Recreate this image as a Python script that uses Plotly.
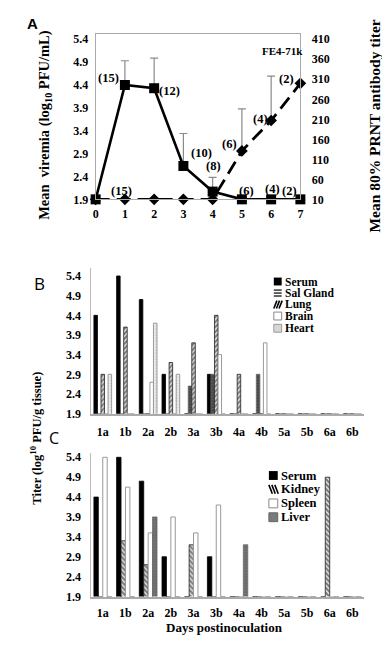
import plotly.graph_objects as go

# ---------------- Panel A data ----------------
days = [0, 1, 2, 3, 4, 5, 6, 7]
viremia = [1.9, 4.4, 4.33, 2.63, 2.07, 1.9, 1.9, 1.9]
viremia_err = [0, 0.53, 0.66, 0.71, 0.31, 0, 0, 0]
titer = [10, 10, 10, 10, 10, 131, 207, 300]
titer_err = [0, 0, 0, 0, 0, 105, 111, 0]
left_ticks = [1.9, 2.4, 2.9, 3.4, 3.9, 4.4, 4.9, 5.4]
right_ticks = [10, 60, 110, 160, 210, 260, 310, 360, 410]
# group-size labels (text, day position, viremia-scale height)
n_labels = ["(15)", "(12)", "(10)", "(8)", "(6)", "(4)", "(2)", "(15)", "(6)", "(4)", "(2)"]
n_label_x = [0.44, 2.53, 3.62, 4.02, 4.58, 5.64, 6.51, 0.90, 5.16, 6.04, 6.62]
n_label_y = [4.55, 4.26, 2.92, 2.64, 3.11, 3.66, 4.54, 2.08, 2.08, 2.12, 2.08]

# ---------------- Panels B / C data ----------------
groups = ["1a", "1b", "2a", "2b", "3a", "3b", "4a", "4b", "5a", "5b", "6a", "6b"]
tissue_ticks = [1.9, 2.4, 2.9, 3.4, 3.9, 4.4, 4.9, 5.4]

serum_b = [4.4, 5.4, 4.8, 2.9, 1.9, 2.9, 1.9, 1.9, 1.9, 1.9, 1.9, 1.9]
salgland_b = [1.9, 1.9, 1.9, 1.9, 2.6, 2.9, 1.9, 2.9, 1.9, 1.9, 1.9, 1.9]
lung_b = [2.9, 4.1, 1.9, 3.2, 3.7, 4.4, 2.9, 1.9, 1.9, 1.9, 1.9, 1.9]
brain_b = [1.9, 1.9, 2.7, 1.9, 1.9, 3.4, 1.9, 3.7, 1.9, 1.9, 1.9, 1.9]
heart_b = [2.9, 1.9, 4.2, 2.9, 1.9, 1.9, 1.9, 1.9, 1.9, 1.9, 1.9, 1.9]

serum_c = [4.4, 5.4, 4.8, 2.9, 1.9, 2.9, 1.9, 1.9, 1.9, 1.9, 1.9, 1.9]
kidney_c = [1.9, 3.3, 2.7, 1.9, 3.2, 1.9, 1.9, 1.9, 1.9, 1.9, 4.9, 1.9]
spleen_c = [5.4, 4.65, 3.5, 3.9, 3.5, 4.2, 1.9, 1.9, 1.9, 1.9, 1.9, 1.9]
liver_c = [1.9, 1.9, 3.9, 1.9, 1.9, 1.9, 3.2, 1.9, 1.9, 1.9, 1.9, 1.9]

legend_b = ["Serum", "Sal Gland", "Lung", "Brain", "Heart"]
legend_c = ["Serum", "Kidney", "Spleen", "Liver"]

SERIF = "Liberation Serif"
# The page body has an 8px default margin: the figure is drawn at (8, 8),
# so it is sized to fit inside the 390x670 window.
OFF = 8
W, H = 382, 654


def px(x):
    return (x - OFF) / W


def py(y):
    return 1 - (y - OFF) / H


fig = go.Figure()

# ---------------- Panel A traces ----------------
fig.add_trace(go.Scatter(
    x=days, y=viremia, mode="lines+markers", xaxis="x", yaxis="y",
    line=dict(color="black", width=2.6),
    marker=dict(symbol="square", size=10, color="black"),
    error_y=dict(type="data", array=viremia_err, arrayminus=[0] * len(days),
                 symmetric=False, color="#8a8a8a", thickness=1.2, width=4),
    cliponaxis=False, showlegend=False))
fig.add_trace(go.Scatter(
    x=days, y=titer, mode="lines+markers", xaxis="x", yaxis="y2",
    line=dict(color="black", width=2.8, dash="14px,7px"),
    marker=dict(symbol="diamond", size=9, color="black"),
    error_y=dict(type="data", array=titer_err, arrayminus=[0] * len(days),
                 symmetric=False, color="#8a8a8a", thickness=1.2, width=4),
    cliponaxis=False, showlegend=False))

# ---------------- Panel B traces ----------------
b_styles = [
    (serum_b, dict(color="black", line=dict(color="black", width=0.8))),
    (salgland_b, dict(color="#555555", line=dict(color="#666666", width=0.8),
                      pattern=dict(shape="-", fgcolor="#2a2a2a", size=3, solidity=0.4))),
    (lung_b, dict(color="white", line=dict(color="#222222", width=0.8),
                  pattern=dict(shape="/", fgcolor="black", bgcolor="white", size=3.5, solidity=0.7))),
    (brain_b, dict(color="white", line=dict(color="#999999", width=1))),
    (heart_b, dict(color="white", line=dict(color="#999999", width=1),
                   pattern=dict(shape=".", fgcolor="#9a9a9a", bgcolor="white", size=3, solidity=0.5))),
]
for name, (vals, mk) in zip(legend_b, b_styles):
    fig.add_trace(go.Bar(x=groups, y=vals, name=name, xaxis="x2", yaxis="y3",
                         marker=mk, showlegend=False))

# ---------------- Panel C traces ----------------
c_styles = [
    (serum_c, dict(color="black", line=dict(color="black", width=0.8))),
    (kidney_c, dict(color="white", line=dict(color="#222222", width=0.8),
                    pattern=dict(shape="\\", fgcolor="black", bgcolor="white", size=3.5, solidity=0.7))),
    (spleen_c, dict(color="white", line=dict(color="#999999", width=1))),
    (liver_c, dict(color="#7a7a7a", line=dict(color="#666666", width=0.8),
                   pattern=dict(shape=".", fgcolor="#3a3a3a", size=3, solidity=0.4))),
]
for name, (vals, mk) in zip(legend_c, c_styles):
    fig.add_trace(go.Bar(x=groups, y=vals, name=name, xaxis="x3", yaxis="y4",
                         marker=mk, showlegend=False))

tickfont = dict(family=SERIF, size=12, color="black", weight="bold")
transparent = "rgba(0,0,0,0)"
fmt = lambda v: f"{v:.1f}"

fig.update_layout(
    width=W, height=H, margin=dict(l=0, r=0, t=0, b=0),
    paper_bgcolor="white", plot_bgcolor="white",
    barmode="group", bargap=0.22, bargroupgap=0,
    font=dict(family=SERIF, color="black"),
    # Panel A
    xaxis=dict(domain=[px(94), px(302)], anchor="y", range=[0, 7],
               tickvals=days, ticktext=[str(d) for d in days],
               showline=True, mirror=True, linecolor="#aaaaaa", linewidth=1,
               showgrid=False, zeroline=False, ticks="outside", ticklen=3,
               tickcolor=transparent, tickfont=tickfont),
    yaxis=dict(domain=[py(200), py(32.3)], anchor="x", range=[1.9, 5.516],
               tickvals=left_ticks, ticktext=[fmt(v) for v in left_ticks],
               showline=True, linecolor="#aaaaaa", linewidth=1,
               showgrid=False, zeroline=False, ticks="outside", ticklen=4,
               tickcolor=transparent, tickfont=tickfont),
    yaxis2=dict(overlaying="y", side="right", anchor="x",
                range=[10, 10 + (5.516 - 1.9) / 3.5 * 400],
                tickvals=right_ticks, ticktext=[str(v) for v in right_ticks],
                showline=True, linecolor="#aaaaaa", linewidth=1,
                showgrid=False, zeroline=False, ticks="outside", ticklen=8,
                tickcolor=transparent, tickfont=tickfont),
    # Panel B
    xaxis2=dict(domain=[px(89.7), px(366.4)], anchor="y3", type="category",
                showline=True, linecolor="#aaaaaa", linewidth=1.5,
                showgrid=False, zeroline=False, ticks="outside", ticklen=6,
                tickcolor=transparent, tickfont=tickfont),
    yaxis3=dict(domain=[py(417.3), py(269.3)], anchor="x2", range=[1.9, 5.61],
                tickvals=tissue_ticks, ticktext=[fmt(v) for v in tissue_ticks],
                showline=True, linecolor="#bbbbbb", linewidth=1,
                showgrid=False, zeroline=False, ticks="outside", ticklen=7,
                tickcolor=transparent, tickfont=tickfont),
    # Panel C
    xaxis3=dict(domain=[px(89.7), px(366.4)], anchor="y4", type="category",
                showline=True, linecolor="#aaaaaa", linewidth=1.5,
                showgrid=False, zeroline=False, ticks="outside", ticklen=4,
                tickcolor=transparent, tickfont=tickfont),
    yaxis4=dict(domain=[py(602.7), py(456.7)], anchor="x3", range=[1.9, 5.52],
                tickvals=tissue_ticks, ticktext=[fmt(v) for v in tissue_ticks],
                showline=True, linecolor="#bbbbbb", linewidth=1,
                showgrid=False, zeroline=False, ticks="outside", ticklen=7,
                tickcolor=transparent, tickfont=tickfont),
)

ann = []
bold = lambda s: dict(family=SERIF, size=s, color="black", weight="bold")


def note(text, x, y, font, xanchor="center", textangle=0, xref="paper", yref="paper"):
    ann.append(dict(text=text, x=x, y=y, xref=xref, yref=yref, showarrow=False,
                    xanchor=xanchor, yanchor="middle", textangle=textangle, font=font))


# Panel A sample-size labels
for t, xv, yv in zip(n_labels, n_label_x, n_label_y):
    note(t, xv, yv, bold(12.5), xref="x", yref="y")

# Panel labels
note("A", px(30), py(21.7), dict(family="Liberation Sans", size=15, color="black", weight="bold"))
note("B", px(37), py(285), dict(family="Open Sans", size=17, color="black"))
note("C", px(52), py(442), dict(family="Open Sans", size=16, color="black"))
note("FE4-71k", px(284), py(49.3), bold(11))

# Axis titles
note("Mean  viremia (log<sub>10</sub> PFU/mL)", px(43), py(124), bold(14.5), textangle=-90)
note("Mean 80% PRNT antibody titer", px(377), py(126), bold(15.5), textangle=-90)
note("Titer (log<sup>10</sup> PFU/g tissue)", px(33), py(442), bold(12.5), textangle=-90)
note("Days postinoculation", px(225), py(634.5), bold(13))

shapes = []


def rect(x0, y0, x1, y1, fill, line_color=None, lw=0):
    shapes.append(dict(type="rect", xref="paper", yref="paper",
                       x0=px(x0), x1=px(x1), y0=py(y1), y1=py(y0),
                       fillcolor=fill,
                       line=dict(color=line_color or fill, width=lw)))


def seg(x0, y0, x1, y1, color, lw):
    shapes.append(dict(type="line", xref="paper", yref="paper",
                       x0=px(x0), x1=px(x1), y0=py(y0), y1=py(y1),
                       line=dict(color=color, width=lw)))


def swatch(kind, x0, yc, s):
    y0, y1 = yc - s / 2, yc + s / 2
    x1 = x0 + s
    if kind == "Serum":
        rect(x0, y0, x1, y1, "black")
    elif kind == "Sal Gland":
        for k in range(3):
            yy = y0 + 1 + k * (s - 2) / 2
            seg(x0, yy, x1, yy, "#333333", 1.5)
    elif kind in ("Lung", "Kidney"):
        n = 3
        for k in range(n):
            a = x0 + k * s / n
            if kind == "Lung":
                seg(a, y1, a + s / n + 0.5, y0, "black", 1.6)
            else:
                seg(a, y0, a + s / n + 0.5, y1, "black", 1.6)
    elif kind in ("Brain", "Spleen"):
        rect(x0, y0, x1, y1, "white", "#888888", 1)
    elif kind == "Heart":
        rect(x0, y0, x1, y1, "#d6d6d6", "#999999", 1)
    elif kind == "Liver":
        rect(x0, y0, x1, y1, "#7a7a7a", "#666666", 1)


# Legend B
rows_b = [283.3, 295.0, 306.7, 318.3, 330.7]
for name, yc in zip(legend_b, rows_b):
    swatch(name, 275, yc, 8)
    note(name, px(284.5), py(yc), bold(11.5), xanchor="left")
# Legend C
rows_c = [480.0, 494.0, 508.3, 522.3]
for name, yc in zip(legend_c, rows_c):
    swatch(name, 270, yc, 9)
    note(name, px(280.5), py(yc), bold(12.5), xanchor="left")

fig.update_layout(annotations=ann, shapes=shapes)
fig.write_html("out.html")
